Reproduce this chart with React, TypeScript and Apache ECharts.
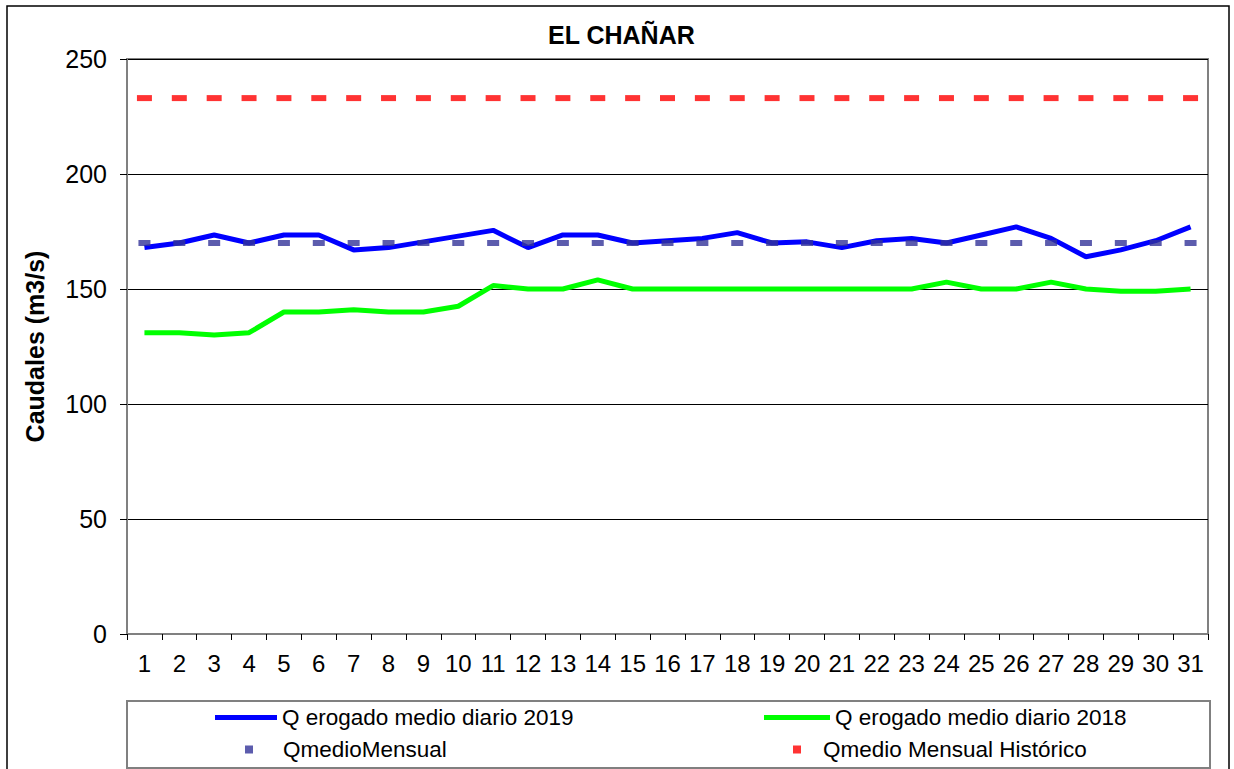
import React, { useEffect, useRef } from "react";
import * as echarts from "echarts";

const days = ["1","2","3","4","5","6","7","8","9","10","11","12","13","14","15","16","17","18","19","20","21","22","23","24","25","26","27","28","29","30","31"];
const q2019 = [168, 170, 173.5, 170, 173.5, 173.5, 167, 168, 170.5, 173, 175.5, 168, 173.5, 173.5, 170, 171, 172, 174.5, 170, 170.5, 168, 171, 172, 170, 173.5, 177, 172, 164, 167, 171, 177];
const q2018 = [131, 131, 130, 131, 140, 140, 141, 140, 140, 142.5, 151.5, 150, 150, 154, 150, 150, 150, 150, 150, 150, 150, 150, 150, 153, 150, 150, 153, 150, 149, 149, 150];
const qMensual = [170, 170, 170, 170, 170, 170, 170, 170, 170, 170, 170, 170, 170, 170, 170, 170, 170, 170, 170, 170, 170, 170, 170, 170, 170, 170, 170, 170, 170, 170, 170];
const qHistorico = [233, 233, 233, 233, 233, 233, 233, 233, 233, 233, 233, 233, 233, 233, 233, 233, 233, 233, 233, 233, 233, 233, 233, 233, 233, 233, 233, 233, 233, 233, 233];
const yTicks = { min: 0, max: 250, interval: 50 };

const FONT = "'Liberation Sans', Arial, sans-serif";
const N2019 = "Q erogado medio diario 2019";
const N2018 = "Q erogado medio diario 2018";
const NMEN = "QmedioMensual";
const NHIS = "Qmedio Mensual Histórico";

export default function App() {
  const ref = useRef<HTMLDivElement>(null);
  useEffect(() => {
    if (!ref.current) return;
    const chart = echarts.init(ref.current, undefined, { renderer: "svg" });
    const legendText = { fontFamily: FONT, fontSize: 22.5, color: "#000" };
    chart.setOption({
      animation: false,
      backgroundColor: "#fff",
      title: {
        text: "EL CHAÑAR",
        left: 548,
        top: 22,
        padding: 0,
        textStyle: { fontFamily: FONT, fontSize: 25, fontWeight: "bold", color: "#000" },
      },
      grid: {
        left: 127, right: 26, top: 59, bottom: 135,
        show: true, borderColor: "#808080", borderWidth: 2, backgroundColor: "#fff",
      },
      legend: [
        { data: [{ name: N2019, icon: "rect" }], left: 215, top: 706, itemWidth: 62, itemHeight: 5, itemGap: 0, padding: 0, textStyle: legendText, selectedMode: false },
        { data: [{ name: N2018, icon: "rect" }], left: 764, top: 706, itemWidth: 66, itemHeight: 5, itemGap: 0, padding: 0, textStyle: legendText, selectedMode: false },
        { data: [{ name: NMEN, icon: "rect" }], left: 245, top: 738, itemWidth: 8, itemHeight: 8, itemGap: 0, padding: 0, textStyle: { ...legendText, padding: [0, 0, 0, 25] }, selectedMode: false },
        { data: [{ name: NHIS, icon: "rect" }], left: 793, top: 738, itemWidth: 8, itemHeight: 8, itemGap: 0, padding: 0, textStyle: { ...legendText, padding: [0, 0, 0, 17] }, selectedMode: false },
      ],
      xAxis: {
        type: "category",
        data: days,
        boundaryGap: true,
        axisLine: { lineStyle: { color: "#808080", width: 2 } },
        axisTick: { show: true, length: 6, alignWithLabel: false, lineStyle: { color: "#000" } },
        axisLabel: { fontFamily: FONT, fontSize: 24, color: "#000", margin: 17, interval: 0 },
        splitLine: { show: false },
      },
      yAxis: {
        type: "value",
        min: yTicks.min,
        max: yTicks.max,
        interval: yTicks.interval,
        name: "Caudales (m3/s)",
        nameLocation: "middle",
        nameGap: 80,
        nameTextStyle: { fontFamily: FONT, fontSize: 25, fontWeight: "bold", color: "#000" },
        axisLine: { show: true, lineStyle: { color: "#808080", width: 2 } },
        axisTick: { show: true, length: 7, lineStyle: { color: "#000" } },
        axisLabel: { fontFamily: FONT, fontSize: 25, color: "#000", margin: 20 },
        splitLine: { show: true, lineStyle: { color: "#000", width: 1 } },
      },
      graphic: [
        { type: "rect", shape: { x: 127, y: 701, width: 1083, height: 67 }, style: { fill: "none", stroke: "#808080", lineWidth: 2 }, z: 10 },
        { type: "rect", shape: { x: 7, y: 6, width: 1222, height: 800 }, style: { fill: "none", stroke: "#000", lineWidth: 1.5 }, z: 10 },
      ],
      series: [
        { name: N2019, type: "line", data: q2019, symbol: "none", color: "#0000FF", lineStyle: { color: "#0000FF", width: 5 }, z: 3 },
        { name: N2018, type: "line", data: q2018, symbol: "none", color: "#00FF00", lineStyle: { color: "#00FF00", width: 5 }, z: 3 },
        { name: NMEN, type: "scatter", data: qMensual, symbol: "rect", symbolSize: [12, 6], color: "#333399", itemStyle: { color: "#333399" }, z: 4 },
        { name: NHIS, type: "scatter", data: qHistorico, symbol: "rect", symbolSize: [15, 6], color: "#FF0000", itemStyle: { color: "#FF0000" }, z: 4 },
      ],
    });
    return () => chart.dispose();
  }, []);
  return <div ref={ref} style={{ position: "absolute", left: 0, top: 0, width: 1234, height: 769 }} />;
}
